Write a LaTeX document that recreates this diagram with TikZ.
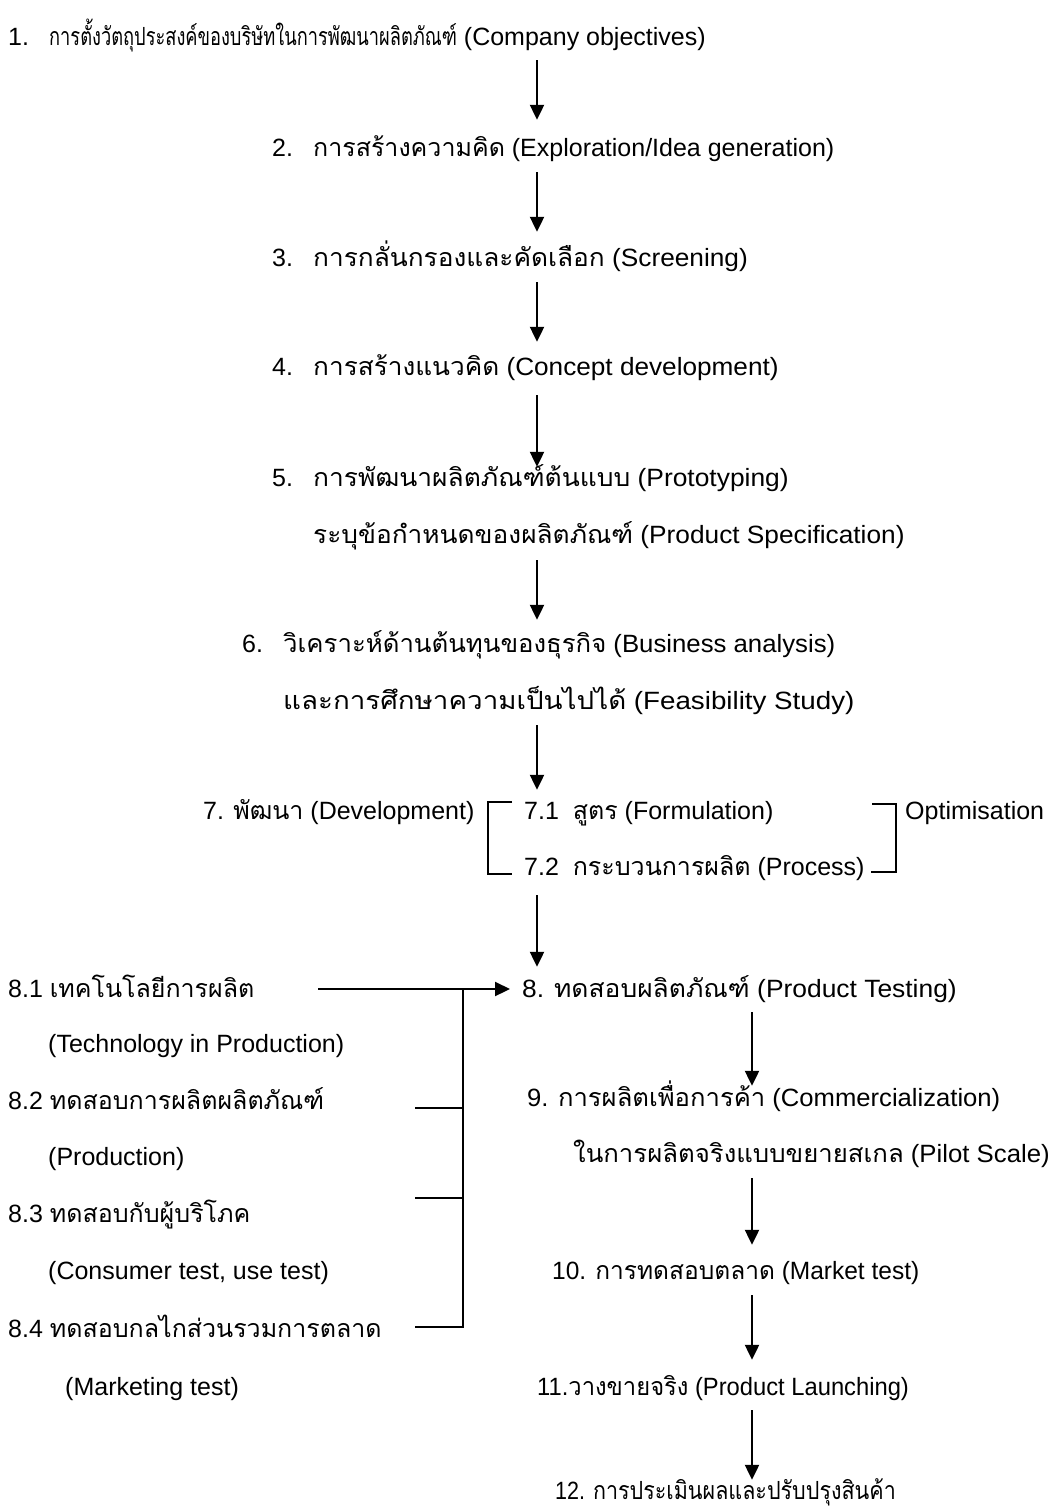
\documentclass[tikz,border=0pt]{standalone}
\usepackage{fontspec}
\setmainfont{Liberation Sans}
\newfontfamily\thaifont[Script=Thai]{Loma}
\usetikzlibrary{arrows.meta}

% Thai letters switch to the Thai face by themselves
\XeTeXinterchartokenstate=1
\newXeTeXintercharclass\thaiclass
\newcount\thaichar
\thaichar="0E01
\loop
  \XeTeXcharclass\thaichar=\thaiclass
  \ifnum\thaichar<"0E5B
  \advance\thaichar by 1
\repeat
\XeTeXinterchartoks 0 \thaiclass = {\thaifont}
\XeTeXinterchartoks 4095 \thaiclass = {\thaifont}
\XeTeXinterchartoks \thaiclass 0 = {\normalfont}
\XeTeXinterchartoks \thaiclass 4095 = {\normalfont}

\newcommand{\stepno}[1]{\makebox[41pt][l]{#1}}
\newcommand{\widen}[2]{\scalebox{#1}[1]{#2}}

\tikzset{
  txt/.style={anchor=base west, inner sep=0pt, text height=22pt, text depth=8pt,
    font=\fontsize{25}{30}\selectfont},
  flow/.style={line width=2.2pt, -{Triangle[length=15pt,width=14pt]}},
  rule/.style={line width=2.2pt},
}

\begin{document}
\begin{tikzpicture}[x=1pt, y=-1pt]
    \useasboundingbox (0,0) rectangle (1059,1509);
    \coordinate (spine) at (537,0);
    \coordinate (spineb) at (752,0);
    \coordinate (lead) at (318,0);

    % main chain
    \node[txt] (r1) at (8,46) {\stepno{1.}\widen{0.73}{การตั้งวัตถุประสงค์ของบริษัทในการพัฒนาผลิตภัณฑ์} (Company objectives)};
    \node[txt] (r2) at (272,157) {\stepno{2.}การสร้างความคิด (Exploration/Idea generation)};
    \node[txt] (r3) at (272,266) {\stepno{3.}\widen{1.05}{การกลั่นกรองและคัดเลือก (Screening)}};
    \node[txt] (r4) at (272,375) {\stepno{4.}\widen{1.047}{การสร้างแนวคิด (Concept development)}};
    \node[txt] (r5) at (272,486) {\stepno{5.}\widen{1.055}{การพัฒนาผลิตภัณฑ์ต้นแบบ (Prototyping)}};
    \node[txt] (r5b) at (313,543) {\widen{1.05}{ระบุข้อกำหนดของผลิตภัณฑ์ (Product Specification)}};
    \node[txt] (r6) at (242,652) {\stepno{6.}\widen{1.03}{วิเคราะห์ด้านต้นทุนของธุรกิจ (Business analysis)}};
    \node[txt] (r6b) at (283,709) {\widen{1.11}{และการศึกษาความเป็นไปได้ (Feasibility Study)}};
    \node[txt] (r7) at (203,819) {7. พัฒนา (Development)};
    \node[txt] (r71) at (524,819) {7.1~ สูตร (Formulation)};
    \node[txt] (r72) at (524,875) {7.2~ กระบวนการผลิต (Process)};
    \node[txt] (opt) at (905,819) {Optimisation};
    \node[txt] (r8) at (522,997) {\widen{1.056}{8. ทดสอบผลิตภัณฑ์ (Product Testing)}};
    \node[txt] (r9) at (527,1106) {\widen{1.025}{9. การผลิตเพื่อการค้า (Commercialization)}};
    \node[txt] (r9b) at (573,1162) {\widen{1.03}{ในการผลิตจริงแบบขยายสเกล (Pilot Scale)}};
    \node[txt] (r10) at (552,1279) {\widen{0.98}{10. การทดสอบตลาด (Market test)}};
    \node[txt] (r11) at (537,1395) {\widen{0.95}{11.วางขายจริง (Product Launching)}};
    \node[txt] (r12) at (555,1499) {\widen{0.86}{12. การประเมินผลและปรับปรุงสินค้า}};

    % tests feeding step 8
    \node[txt] (l81) at (8,997) {8.1 เทคโนโลยีการผลิต};
    \node[txt] (l81b) at (48,1052) {(Technology in Production)};
    \node[txt] (l82) at (8,1109) {8.2 ทดสอบการผลิตผลิตภัณฑ์};
    \node[txt] (l82b) at (48,1165) {(Production)};
    \node[txt] (l83) at (8,1222) {8.3 ทดสอบกับผู้บริโภค};
    \node[txt] (l83b) at (48,1279) {(Consumer test, use test)};
    \node[txt] (l84) at (8,1337) {8.4 ทดสอบกลไกส่วนรวมการตลาด};
    \node[txt] (l84b) at (65,1395) {(Marketing test)};

    % arrows down the chain
    \draw[flow, shorten <=6pt, shorten >=15pt] (r1.south -| spine) -- (r2.north -| spine);
    \draw[flow, shorten <=7pt, shorten >=12pt] (r2.south -| spine) -- (r3.north -| spine);
    \draw[flow, shorten <=8pt, shorten >=11pt] (r3.south -| spine) -- (r4.north -| spine);
    \draw[flow, shorten <=12pt, shorten >=-3pt] (r4.south -| spine) -- (r5.north -| spine);
    \draw[flow, shorten <=9pt, shorten >=10pt] (r5b.south -| spine) -- (r6.north -| spine);
    \draw[flow, shorten <=8pt, shorten >=7pt] (r6b.south -| spine) -- (r71.north -| spine);
    \draw[flow, shorten <=12pt, shorten >=8pt] (r72.south -| spine) -- (r8.north -| spine);
    \draw[flow, shorten <=7pt, shorten >=-2pt] (r8.south -| spineb) -- (r9.north -| spineb);
    \draw[flow, shorten <=8pt, shorten >=12pt] (r9b.south -| spineb) -- (r10.north -| spineb);
    \draw[flow, shorten <=8pt, shorten >=13pt] (r10.south -| spineb) -- (r11.north -| spineb);
    \draw[flow, shorten <=7pt, shorten >=-3pt] (r11.south -| spineb) -- (r12.north -| spineb);

    % brackets of step 7
    \draw[rule] (512,802) -- (488,802) -- (488,874) -- (512,874);
    \draw[rule] (872,804) -- (896,804) -- (896,872) -- (871,872);

    % bracket of 8.1 - 8.4
    \path ([yshift=8pt]l81.base) coordinate (m81) ([yshift=8pt]r8.base west) coordinate (m8);
    \draw[flow, shorten >=12pt] (m81 -| lead) -- (m8);
    \draw[rule] (415,1327) -- (463,1327) -- (m81 -| 463,0);
    \foreach \t in {1108,1198}
        \draw[rule] (415,\t) -- (463,\t);
\end{tikzpicture}
\end{document}
